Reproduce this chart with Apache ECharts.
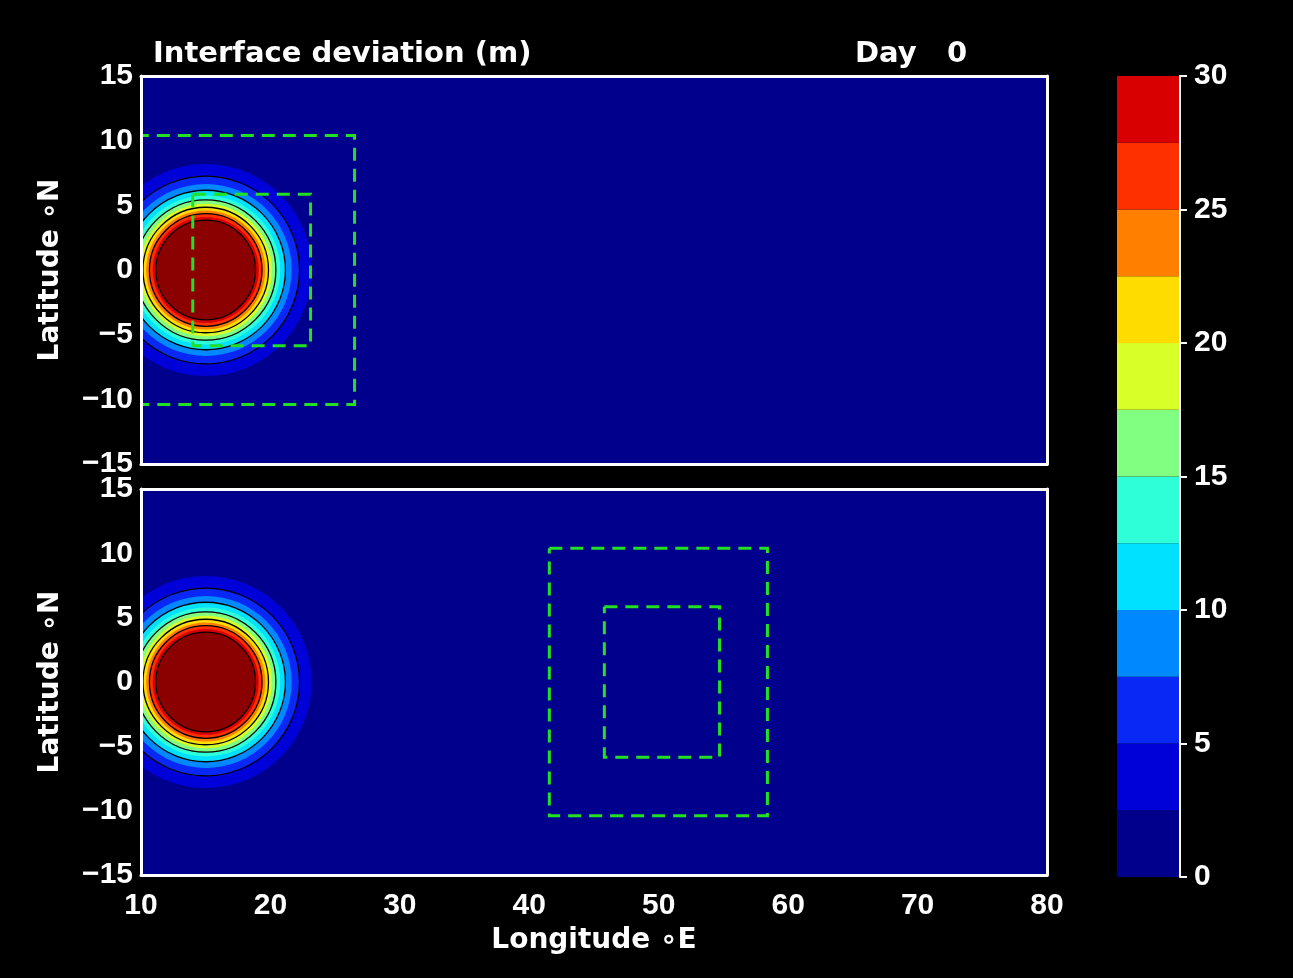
<!DOCTYPE html>
<html><head><meta charset="utf-8">
<script src="https://cdn.jsdelivr.net/npm/echarts@6/dist/echarts.min.js"></script>
<style>html,body{margin:0;padding:0;background:#000;}#c{width:1293px;height:978px;}</style>
</head><body><div id="c"></div>
<script>
// ---- data ----
const contourLevels = [0, 2.5, 5, 7.5, 10, 12.5, 15, 17.5, 20, 22.5, 25, 27.5, 30];
const bandColors = ['#00008c','#0000d8','#0a28f5','#0088ff','#00e0ff','#2effd9','#80ff80','#d8ff28','#ffdc00','#ff8000','#ff3000','#d80000','#8b0000'];
const ringLevels = [2.5, 5, 7.5, 10, 12.5, 15, 17.5, 20, 22.5, 25, 27.5, 30];
const ringRadiusTop = [8.19, 7.25, 6.64, 6.16, 5.76, 5.42, 5.12, 4.85, 4.60, 4.35, 4.10, 3.85];
const ringRadiusBottom = [8.19, 7.25, 6.64, 6.16, 5.76, 5.42, 5.12, 4.85, 4.60, 4.35, 4.10, 3.85];
const lineLevels = [5, 10, 15, 20, 25, 30];
const bumpCenterTop = [15, 0];
const bumpCenterBottom = [15, 0];
const boxesTop = [[9.6, 26.5, -10.4, 10.4], [14.0, 23.1, -5.85, 5.85]];
const boxesBottom = [[41.55, 58.4, -10.4, 10.4], [45.8, 54.7, -5.85, 5.85]];
const lonTicks = [10, 20, 30, 40, 50, 60, 70, 80];
const latTicks = [-15, -10, -5, 0, 5, 10, 15];
const barTicks = [0, 5, 10, 15, 20, 25, 30];
const titleText = 'Interface deviation (m)';
const dayText = 'Day   0';

// ---- build options ----
const TXT = 'DejaVu Sans';
const NUM = 'Liberation Sans';
const fmt = v => String(v).replace('-', '\u2212');
const numStyle = {color:'#fff', fontFamily:NUM, fontWeight:'bold', fontSize:30};
const frameLine = {show:true, onZero:false, lineStyle:{color:'#fff', width:3}};

function ringData(center, radii){
  return radii.map((r,i)=>[center[0], center[1], r, i+1]);
}
function lineData(center, radii){
  return lineLevels.map(l=>{const i=ringLevels.indexOf(l);return [center[0],center[1],radii[i]];});
}
function renderRing(params, api){
  const c = api.coord([api.value(0), api.value(1)]);
  const r = api.size([api.value(2), 0])[0];
  return {type:'circle', shape:{cx:c[0], cy:c[1], r:r}, style:{fill:bandColors[api.value(3)]}};
}
function renderLine(params, api){
  const c = api.coord([api.value(0), api.value(1)]);
  const r = api.size([api.value(2), 0])[0];
  return {type:'circle', shape:{cx:c[0], cy:c[1], r:r}, style:{fill:null, stroke:'#000', lineWidth:1.3}};
}
function renderBox(params, api){
  const x0=api.value(0), x1=api.value(1), y0=api.value(2), y1=api.value(3);
  const pts=[api.coord([x0,y1]),api.coord([x1,y1]),api.coord([x1,y0]),api.coord([x0,y0]),api.coord([x0,y1])];
  return {type:'polyline', shape:{points:pts}, style:{fill:null, stroke:'#22e022', lineWidth:3, lineDash:[13,8]}};
}
const barData = contourLevels.slice(0,-1).map((lo,i)=>[lo, contourLevels[i+1], i]);
function renderBar(params, api){
  const p0 = api.coord([0, api.value(1)]);
  const p1 = api.coord([1, api.value(0)]);
  return {type:'rect', shape:{x:p0[0], y:p0[1], width:p1[0]-p0[0], height:p1[1]-p0[1]}, style:{fill:bandColors[api.value(2)]}};
}

function xAx(grid, pos, labels){
  return {type:'value', gridIndex:grid, position:pos, min:lonTicks[0], max:lonTicks[lonTicks.length-1], interval:lonTicks[1]-lonTicks[0],
    z:10, axisLine:frameLine, axisTick:{show:false}, splitLine:{show:false},
    axisLabel:{show:labels, margin:16, formatter:fmt, ...numStyle},
    name: labels ? 'Longitude \u2218E' : '', nameLocation:'middle', nameGap:52,
    nameTextStyle:{color:'#fff', fontFamily:TXT, fontWeight:'bold', fontSize:28}};
}
function yAx(grid, pos, labels){
  return {type:'value', gridIndex:grid, position:pos, min:latTicks[0], max:latTicks[latTicks.length-1], interval:latTicks[1]-latTicks[0],
    z:10, axisLine:frameLine, axisTick:{show:false}, splitLine:{show:false},
    axisLabel:{show:labels, margin:8, formatter:fmt, ...numStyle},
    name: labels ? 'Latitude \u2218N' : '', nameLocation:'middle', nameGap:76, nameRotate:90,
    nameTextStyle:{color:'#fff', fontFamily:TXT, fontWeight:'bold', fontSize:28}};
}

const option = {
  backgroundColor:'#000',
  animation:false,
  title:[
    {text:titleText, left:153, top:40, padding:0, textStyle:{color:'#fff', fontFamily:TXT, fontWeight:'bold', fontSize:29}},
    {text:dayText, left:855, top:40, padding:0, textStyle:{color:'#fff', fontFamily:TXT, fontWeight:'bold', fontSize:29}}
  ],
  grid:[
    {left:141, top:76, width:906, height:388, show:true, backgroundColor:bandColors[0], borderWidth:0},
    {left:141, top:489, width:906, height:386, show:true, backgroundColor:bandColors[0], borderWidth:0},
    {left:1117, top:76, width:63, height:801}
  ],
  xAxis:[ xAx(0,'bottom',false), xAx(0,'top',false), xAx(1,'bottom',true), xAx(1,'top',false),
    {type:'value', gridIndex:2, min:0, max:1, show:false} ],
  yAxis:[ yAx(0,'left',true), yAx(0,'right',false), yAx(1,'left',true), yAx(1,'right',false),
    {type:'value', gridIndex:2, position:'right', min:barTicks[0], max:barTicks[barTicks.length-1], interval:barTicks[1]-barTicks[0],
     z:10, axisLine:{show:true, onZero:false, lineStyle:{color:'#fff', width:2}}, axisTick:{show:true, inside:false, length:7, lineStyle:{color:'#fff', width:2}},
     splitLine:{show:false}, axisLabel:{margin:14, ...numStyle}} ],
  series:[
    {type:'custom', xAxisIndex:0, yAxisIndex:0, clip:true, renderItem:renderRing, data:ringData(bumpCenterTop, ringRadiusTop), z:2},
    {type:'custom', xAxisIndex:0, yAxisIndex:0, clip:true, renderItem:renderLine, data:lineData(bumpCenterTop, ringRadiusTop), z:3},
    {type:'custom', xAxisIndex:0, yAxisIndex:0, clip:true, renderItem:renderBox, data:boxesTop, z:4},
    {type:'custom', xAxisIndex:2, yAxisIndex:2, clip:true, renderItem:renderRing, data:ringData(bumpCenterBottom, ringRadiusBottom), z:2},
    {type:'custom', xAxisIndex:2, yAxisIndex:2, clip:true, renderItem:renderLine, data:lineData(bumpCenterBottom, ringRadiusBottom), z:3},
    {type:'custom', xAxisIndex:2, yAxisIndex:2, clip:true, renderItem:renderBox, data:boxesBottom, z:4},
    {type:'custom', xAxisIndex:4, yAxisIndex:4, clip:false, renderItem:renderBar, data:barData, z:2}
  ]
};
const chart = echarts.init(document.getElementById('c'), null, {renderer:'canvas'});
chart.setOption(option);
</script></body></html>
